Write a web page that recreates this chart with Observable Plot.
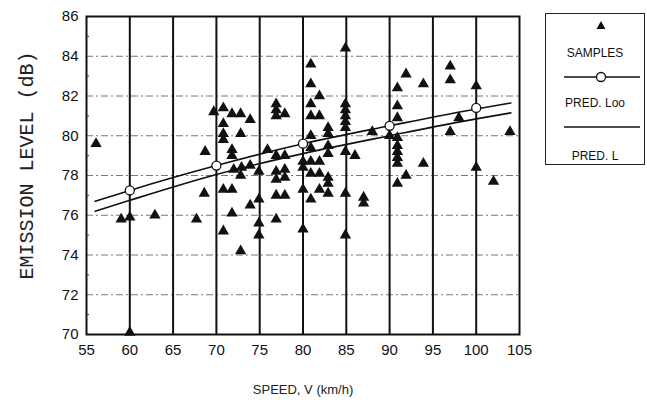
<!DOCTYPE html>
<html><head><meta charset="utf-8">
<script src="https://cdn.jsdelivr.net/npm/d3@7"></script>
<script src="https://cdn.jsdelivr.net/npm/@observablehq/plot@0.6"></script>
<style>
body{margin:0;background:#fff;}
#wrap{position:relative;width:647px;height:405px;overflow:hidden;}
#legend{position:absolute;left:545px;top:13px;width:100px;height:152px;border:1.5px solid #222;box-sizing:border-box;font-family:"Liberation Sans Narrow","Liberation Sans",Arial,sans-serif;font-size:12px;color:#111;}
#legend .t{position:absolute;left:0;width:100%;text-align:center;transform:translateY(-50%);}
#legend svg{position:absolute;left:0;top:0;}
</style></head><body><div id="wrap"></div>
<script>
// Sample points (speed km/h, emission level dB)
const speeds = [56.1,59.0,60.0,60.0,62.9,67.7,68.6,68.7,69.7,
  70.8,70.8,70.8,70.8,70.8,70.8,
  71.8,71.8,71.8,71.8,71.8,72.0,
  72.8,72.8,72.9,72.8,72.8,
  73.9,73.9,73.9,
  74.9,74.9,74.9,74.9,75.9,
  76.9,76.9,76.9,76.9,76.9,76.9,76.9,76.9,
  77.9,77.9,77.9,77.9,77.9,
  80.0,80.0,80.0,80.0,
  80.9,80.9,80.9,80.9,80.9,80.9,80.9,80.9,80.9,
  81.9,81.9,81.9,81.9,81.9,
  82.9,82.9,82.9,82.9,82.9,82.9,82.9,
  84.9,84.9,84.9,84.9,84.9,84.9,84.9,84.9,84.9,
  86.0,87.0,87.0,88.0,90.0,
  90.9,90.9,90.9,90.9,90.9,90.9,90.9,90.9,90.9,
  91.9,91.9,93.9,93.9,97.0,97.0,97.0,98.0,100.0,100.0,102.0,103.9];
const levels = [79.6,75.8,75.9,70.1,76.0,75.8,77.1,79.2,81.2,
  81.4,80.6,80.1,79.8,77.3,75.2,
  81.1,79.3,79.0,77.3,76.1,78.3,
  81.1,80.1,78.4,78.0,74.2,
  80.8,78.5,76.5,
  78.2,76.8,75.6,75.0,79.3,
  81.6,81.3,81.0,79.0,78.2,77.8,77.0,75.8,
  81.1,79.0,78.3,77.9,77.0,
  78.7,78.4,77.3,75.3,
  83.6,82.6,81.6,81.0,80.0,79.4,78.7,78.1,76.8,
  82.0,81.0,78.7,78.1,77.3,
  80.4,80.1,79.5,79.1,77.9,77.6,77.1,
  84.4,81.6,81.3,81.0,80.7,80.4,79.2,77.1,75.0,
  79.0,76.9,76.6,80.2,80.0,
  82.4,81.5,80.9,79.9,79.5,79.2,78.9,78.6,77.6,
  83.1,78.0,82.6,78.6,83.5,82.8,80.2,80.9,82.5,78.4,77.7,80.2];

// Prediction curves
const predSpeeds = [56,60,70,80,90,100,104];
const predLog = [76.7,77.25,78.5,79.6,80.5,81.35,81.65];
const predL   = [76.2,76.75,78.05,79.1,80.0,80.85,81.15];
const markerSpeeds = [60,70,80,90,100];
const markerLevels = [77.25,78.5,79.6,80.5,81.4];

const xTicks = [55,60,65,70,75,80,85,90,95,100,105];
const yTicks = [70,72,74,76,78,80,82,84,86];
const gridX = [60,65,70,75,80,85,90,95,100];
const gridY = [72,74,76,78,80,82,84];
const minorY = [71,73,75,77,79,81,83,85];

const samples = speeds.map((v,i)=>({v, l: levels[i]}));
const logRows = predSpeeds.map((v,i)=>({v, l: predLog[i]}));
const lRows = predSpeeds.map((v,i)=>({v, l: predL[i]}));
const markers = markerSpeeds.map((v,i)=>({v, l: markerLevels[i]}));

const sans = "'Liberation Sans Narrow','Liberation Sans',Arial,sans-serif";
const chart = Plot.plot({
  width: 647, height: 405,
  marginLeft: 86, marginRight: 128, marginTop: 16, marginBottom: 71,
  x: {domain: [55,105]},
  y: {domain: [70,86]},
  style: {fontFamily: sans, fontSize: "15px", color: "#111", background: "#fff", overflow: "visible"},
  marks: [
    Plot.ruleY(gridY, {stroke: "#777", strokeWidth: 1, strokeDasharray: "7,3,2,3"}),
    Plot.ruleX(gridX, {stroke: "#111", strokeWidth: 2}),
    Plot.frame({stroke: "#111", strokeWidth: 2}),
    Plot.axisY({ticks: minorY, tickSize: -3, tickFormat: () => "", label: null, stroke: "#333"}),
    Plot.axisY({ticks: yTicks, tickSize: 0, tickPadding: 8, label: null, fontSize: 15}),
    Plot.axisX({ticks: xTicks, tickSize: 0, tickPadding: 10, label: null, fontSize: 15}),
    Plot.line(logRows, {x: "v", y: "l", stroke: "#111", strokeWidth: 1.6, curve: "monotone-x"}),
    Plot.line(lRows, {x: "v", y: "l", stroke: "#111", strokeWidth: 1.6, curve: "monotone-x"}),
    Plot.dot(markers, {x: "v", y: "l", r: 4.5, stroke: "#111", fill: "#fff", strokeWidth: 1.3}),
    Plot.dot(samples, {x: "v", y: "l", symbol: "triangle", r: 4.2, fill: "#111", stroke: "none"}),
    Plot.text(["EMISSION LEVEL (dB)"], {frameAnchor: "left", textAnchor: "middle", dx: -60, dy: -10, rotate: -90, fontFamily: "'Liberation Mono','DejaVu Sans Mono',monospace", fontSize: 20, fill: "#222"}),
    Plot.text(["SPEED, V (km/h)"], {frameAnchor: "bottom", dy: 59, fontSize: 13, fill: "#222"})
  ]
});
const wrap = document.getElementById("wrap");
wrap.appendChild(chart);

const legend = document.createElement("div");
legend.id = "legend";
legend.innerHTML = `
<svg width="100" height="152">
  <path d="M55,7 L59.5,15 L50.5,15 Z" fill="#111"/>
  <line x1="18" x2="94" y1="63" y2="63" stroke="#111" stroke-width="1.5"/>
  <circle cx="55" cy="63" r="4.5" fill="#fff" stroke="#111" stroke-width="1.3"/>
  <line x1="18" x2="94" y1="113" y2="113" stroke="#111" stroke-width="1.5"/>
</svg>
<div class="t" style="top:39px">SAMPLES</div>
<div class="t" style="top:89px">PRED. Loo</div>
<div class="t" style="top:142px">PRED. L</div>`;
wrap.appendChild(legend);
</script>
</body></html>
